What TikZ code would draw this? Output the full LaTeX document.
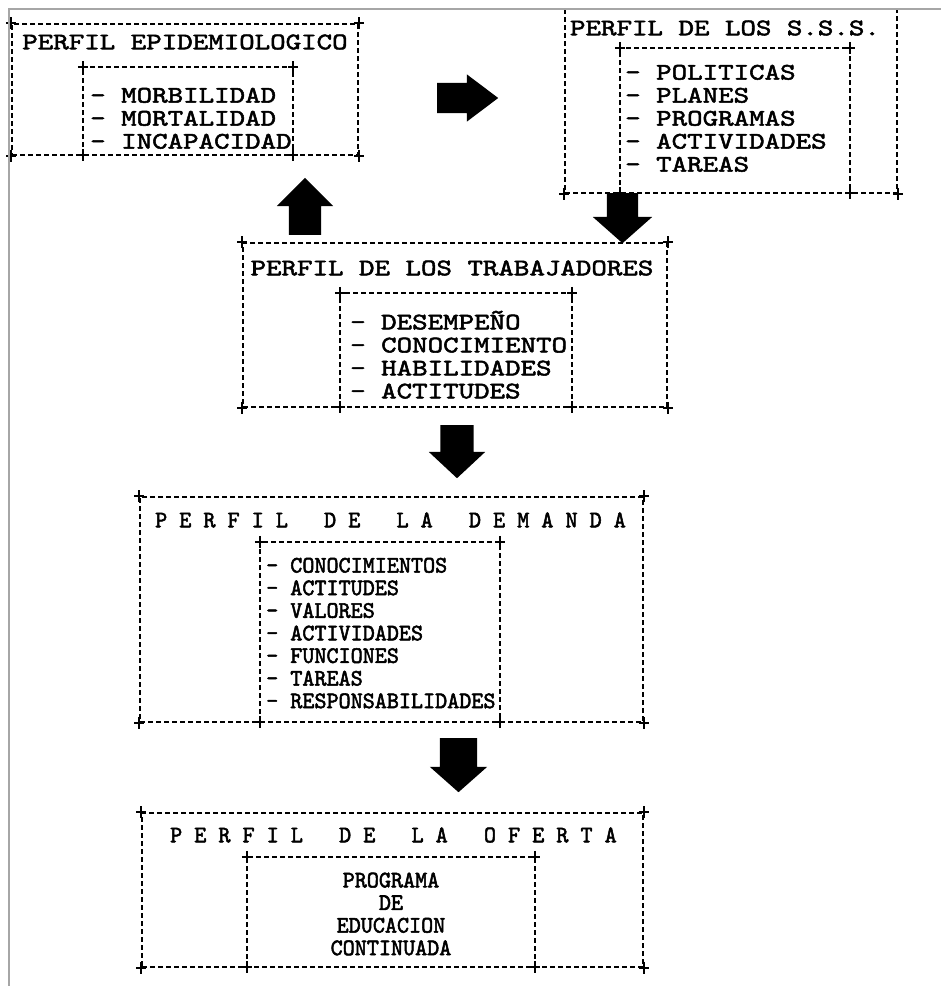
\documentclass[tikz,border=0pt]{standalone}
\usepackage{fontspec}
\newfontfamily\dotmono[FakeStretch=1.245, FakeBold=2.2]{lmmono10-regular.otf}
\newfontfamily\condmono[FakeStretch=0.97, FakeBold=2.2]{lmmono10-regular.otf}
\usetikzlibrary{shapes.arrows}

\tikzset{
  rule/.style={line width=1.6, dash pattern=on 5pt off 3pt},
  outerbox/.style={rectangle, draw, rule, inner sep=0},
  innerbox/.style={rectangle, inner sep=0},
  bigtext/.style={font=\dotmono\fontsize{23.7}{23}\selectfont, inner sep=0, align=left},
  condtext/.style={font=\condmono\fontsize{23.7}{22.6}\selectfont, inner sep=0},
  blockarrow/.style={single arrow, fill=black, inner xsep=0, single arrow head indent=0, anchor=tail},
  plusmark/.pic={\draw[line width=2] (-5,0) -- (5,0) (0,-6) -- (0,6);}
}

\begin{document}
\begin{tikzpicture}[x=1pt,y=-1pt]
\useasboundingbox (0,0) rectangle (941,986);

% boxes
\node[outerbox, minimum width=346, minimum height=131] (epi) at (185,89.5) {};
\node[innerbox, minimum width=210, minimum height=88] (epi-in) at (188,111) {};
\node[outerbox, minimum width=332, minimum height=184] (sss) at (731,101) {};
\node[innerbox, minimum width=230, minimum height=145] (sss-in) at (735,120.5) {};
\node[outerbox, minimum width=424, minimum height=164] (trab) at (455,325) {};
\node[innerbox, minimum width=232, minimum height=114] (trab-in) at (456,350) {};
\node[outerbox, minimum width=503, minimum height=225] (dem) at (391.5,609.5) {};
\node[innerbox, minimum width=240, minimum height=180] (dem-in) at (380,632) {};
\node[outerbox, minimum width=501, minimum height=154] (ofe) at (392.5,890) {};
\node[innerbox, minimum width=288, minimum height=110] (ofe-in) at (391,912) {};

\foreach \b in {epi,sss,trab,dem,ofe} {
  \draw[rule] (\b-in.south west) -- (\b-in.north west) -- (\b-in.north east) -- (\b-in.south east);
  \foreach \a in {south west,south east} {
    \pic at (\b.\a) {plusmark};
    \pic at (\b-in.\a) {plusmark};
  }
  \foreach \a in {north west,north east}
    \pic at (\b-in.\a) {plusmark};
}
\foreach \b in {epi,trab,dem,ofe}
  \foreach \a in {north west,north east}
    \pic at (\b.\a) {plusmark};

% texts
\node[bigtext] (epi-title) at (185,42) {PERFIL EPIDEMIOLOGICO};
\node[bigtext, anchor=north west] (epi-list) at (90,87.6) {- MORBILIDAD\\- MORTALIDAD\\- INCAPACIDAD};
\node[bigtext] (sss-title) at (725,28) {PERFIL DE LOS S.S.S.};
\node[bigtext, anchor=north west] (sss-list) at (625,64.6) {- POLITICAS\\- PLANES\\- PROGRAMAS\\- ACTIVIDADES\\- TAREAS};
\node[bigtext] (trab-title) at (452,268) {PERFIL DE LOS TRABAJADORES};
\node[bigtext, anchor=north west] (trab-list) at (350,310.6) {- DESEMPEÑO\\- CONOCIMIENTO\\- HABILIDADES\\- ACTITUDES};
\node[condtext, anchor=west] (dem-title) at (155,520) {P~E~R~F~I~L~~~D~E~~~L~A~~~D~E~M~A~N~D~A};
\node[condtext, anchor=north west, align=left] (dem-list) at (266,557.6) {- CONOCIMIENTOS\\- ACTITUDES\\- VALORES\\- ACTIVIDADES\\- FUNCIONES\\- TAREAS\\- RESPONSABILIDADES};
\node[condtext, anchor=west] (ofe-title) at (170,835) {P~E~R~F~I~L~~~D~E~~~L~A~~~O~F~E~R~T~A};
\node[condtext, align=center] (ofe-text) at (391,914) {PROGRAMA\\DE\\EDUCACION\\CONTINUADA};

% arrows
\node[blockarrow, minimum height=61, inner ysep=15, single arrow head extend=8.5, single arrow tip angle=74] (ar-epi) at (437,98) {};
\node[blockarrow, rotate=90, minimum height=57, inner ysep=16, single arrow head extend=12, single arrow tip angle=90] (ar-trab) at (305,235) {};
\node[blockarrow, rotate=-90, minimum height=50, inner ysep=15.5, single arrow head extend=14, single arrow tip angle=97] (ar-sss) at (622.5,193) {};
\node[blockarrow, rotate=-90, minimum height=53, inner ysep=16.5, single arrow head extend=11.5, single arrow tip angle=94] (ar-dem) at (457,425) {};
\node[blockarrow, rotate=-90, minimum height=54, inner ysep=18.5, single arrow head extend=10, single arrow tip angle=97] (ar-ofe) at (458.5,738) {};

% frame
\draw[gray!70, line width=2.2] (9,986) -- (9,9) -- (941,9);
\end{tikzpicture}
\end{document}
